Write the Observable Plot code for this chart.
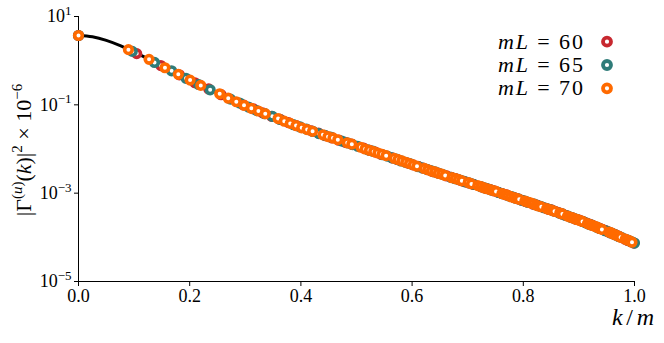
<!DOCTYPE html>
<html><head><meta charset="utf-8">
<script src="https://cdn.jsdelivr.net/npm/d3@7"></script>
<script src="https://cdn.jsdelivr.net/npm/@observablehq/plot@0.6"></script>
<style>
html,body{margin:0;padding:0;background:#fff}
#wrap{width:664px;height:343px}
</style></head><body><div id="wrap"></div>
<script>
// black reference curve: [k/m, log10 value]
const curvePts = [[0,0.57],[0.025,0.54],[0.05,0.46],[0.075,0.34],[0.1,0.19],[0.125,0.04],[0.15,-0.12],[0.175,-0.28],[0.2,-0.44],[0.225,-0.59],[0.25,-0.73],[0.275,-0.88],[0.3,-1.02],[0.325,-1.15],[0.35,-1.27],[0.375,-1.39],[0.4,-1.51],[0.45,-1.72],[0.5,-1.93],[0.55,-2.14],[0.6,-2.35],[0.65,-2.56],[0.7,-2.76],[0.75,-2.96],[0.8,-3.17],[0.85,-3.38],[0.9,-3.61],[0.95,-3.84],[1.0,-4.04]];

// mL = 60 points: [k/m, log10 value]
const pts60 = [[0,0.57],[0.1047,0.16],[0.1481,-0.11],[0.1814,-0.32],[0.2094,-0.50],[0.2342,-0.64],[0.2565,-0.77],[0.2962,-1.00],[0.3142,-1.09],[0.3312,-1.18],[0.3473,-1.26],[0.3628,-1.33],[0.3776,-1.40],[0.3918,-1.47],[0.4189,-1.59],[0.4318,-1.64],[0.4443,-1.70],[0.4565,-1.75],[0.4683,-1.80],[0.4799,-1.85],[0.4912,-1.89],[0.5130,-1.98],[0.5236,-2.03],[0.5340,-2.07],[0.5441,-2.12],[0.5639,-2.20],[0.5736,-2.24],[0.5924,-2.32],[0.6016,-2.36],[0.6106,-2.39],[0.6195,-2.43],[0.6283,-2.47],[0.6370,-2.51],[0.6455,-2.54],[0.6623,-2.61],[0.6705,-2.64],[0.6787,-2.67],[0.6867,-2.71],[0.6946,-2.74],[0.7025,-2.77],[0.7102,-2.80],[0.7255,-2.86],[0.7330,-2.89],[0.7405,-2.92],[0.7478,-2.95],[0.7551,-2.98],[0.7624,-3.01],[0.7695,-3.04],[0.7836,-3.10],[0.7906,-3.13],[0.7975,-3.16],[0.8044,-3.19],[0.8179,-3.25],[0.8246,-3.27],[0.8378,-3.33],[0.8443,-3.36],[0.8508,-3.38],[0.8572,-3.41],[0.8635,-3.44],[0.8699,-3.47],[0.8762,-3.50],[0.8886,-3.56],[0.8947,-3.59],[0.9008,-3.61],[0.9069,-3.64],[0.9129,-3.67],[0.9189,-3.70],[0.9249,-3.73],[0.9366,-3.79],[0.9425,-3.82],[0.9483,-3.85],[0.9541,-3.88],[0.9598,-3.91],[0.9655,-3.94],[0.9711,-3.97],[0.9824,-4.04],[0.9879,-4.07],[0.9935,-4.10],[0.9990,-4.13]];

// mL = 65 points
const pts65 = [[0,0.57],[0.0967,0.21],[0.1367,-0.04],[0.1674,-0.23],[0.1933,-0.40],[0.2161,-0.54],[0.2368,-0.66],[0.2734,-0.87],[0.2900,-0.96],[0.3057,-1.05],[0.3206,-1.13],[0.3349,-1.20],[0.3485,-1.26],[0.3617,-1.33],[0.3867,-1.45],[0.3986,-1.50],[0.4101,-1.55],[0.4213,-1.60],[0.4323,-1.65],[0.4430,-1.69],[0.4534,-1.73],[0.4736,-1.82],[0.4833,-1.86],[0.4929,-1.90],[0.5023,-1.94],[0.5206,-2.02],[0.5294,-2.05],[0.5468,-2.13],[0.5553,-2.16],[0.5637,-2.20],[0.5719,-2.23],[0.5800,-2.27],[0.5880,-2.30],[0.5959,-2.33],[0.6114,-2.40],[0.6190,-2.43],[0.6265,-2.46],[0.6339,-2.49],[0.6412,-2.52],[0.6484,-2.55],[0.6556,-2.58],[0.6697,-2.64],[0.6766,-2.67],[0.6835,-2.69],[0.6903,-2.72],[0.6971,-2.75],[0.7037,-2.77],[0.7103,-2.80],[0.7234,-2.85],[0.7298,-2.88],[0.7362,-2.90],[0.7425,-2.93],[0.7550,-2.98],[0.7611,-3.01],[0.7733,-3.06],[0.7793,-3.08],[0.7853,-3.11],[0.7912,-3.13],[0.7971,-3.16],[0.8029,-3.18],[0.8088,-3.21],[0.8202,-3.25],[0.8259,-3.28],[0.8315,-3.30],[0.8371,-3.33],[0.8427,-3.35],[0.8482,-3.37],[0.8537,-3.40],[0.8646,-3.45],[0.8700,-3.47],[0.8753,-3.50],[0.8807,-3.52],[0.8859,-3.55],[0.8912,-3.57],[0.8964,-3.59],[0.9068,-3.64],[0.9119,-3.67],[0.9170,-3.70],[0.9221,-3.72],[0.9322,-3.77],[0.9372,-3.80],[0.9471,-3.85],[0.9520,-3.87],[0.9569,-3.90],[0.9618,-3.92],[0.9666,-3.95],[0.9715,-3.98],[0.9763,-4.00],[0.9858,-4.05],[0.9905,-4.08],[0.9952,-4.10],[0.9999,-4.13]];

// mL = 70 points
const pts70 = [[0,0.57],[0.0898,0.25],[0.1269,0.03],[0.1555,-0.16],[0.1795,-0.31],[0.2007,-0.44],[0.2199,-0.56],[0.2539,-0.75],[0.2693,-0.85],[0.2838,-0.93],[0.2977,-1.01],[0.3109,-1.08],[0.3236,-1.14],[0.3359,-1.20],[0.3590,-1.31],[0.3701,-1.37],[0.3808,-1.42],[0.3913,-1.47],[0.4014,-1.52],[0.4113,-1.56],[0.4210,-1.60],[0.4397,-1.68],[0.4488,-1.72],[0.4577,-1.75],[0.4664,-1.79],[0.4834,-1.86],[0.4916,-1.89],[0.5078,-1.96],[0.5156,-2.00],[0.5234,-2.03],[0.5310,-2.06],[0.5386,-2.09],[0.5460,-2.12],[0.5533,-2.15],[0.5677,-2.21],[0.5747,-2.24],[0.5817,-2.27],[0.5886,-2.30],[0.5954,-2.33],[0.6021,-2.36],[0.6088,-2.39],[0.6219,-2.44],[0.6283,-2.47],[0.6347,-2.50],[0.6410,-2.52],[0.6473,-2.55],[0.6535,-2.57],[0.6596,-2.60],[0.6717,-2.65],[0.6777,-2.67],[0.6836,-2.69],[0.6895,-2.72],[0.7010,-2.76],[0.7068,-2.79],[0.7181,-2.83],[0.7237,-2.85],[0.7292,-2.88],[0.7347,-2.90],[0.7402,-2.92],[0.7456,-2.94],[0.7510,-2.96],[0.7616,-3.01],[0.7669,-3.03],[0.7721,-3.05],[0.7773,-3.08],[0.7825,-3.10],[0.7876,-3.12],[0.7927,-3.14],[0.8028,-3.18],[0.8078,-3.20],[0.8128,-3.22],[0.8177,-3.24],[0.8227,-3.27],[0.8275,-3.29],[0.8324,-3.31],[0.8420,-3.35],[0.8468,-3.37],[0.8515,-3.39],[0.8562,-3.41],[0.8656,-3.45],[0.8703,-3.47],[0.8795,-3.52],[0.8840,-3.54],[0.8886,-3.56],[0.8931,-3.58],[0.8976,-3.60],[0.9021,-3.62],[0.9065,-3.64],[0.9154,-3.69],[0.9198,-3.71],[0.9241,-3.73],[0.9285,-3.75],[0.9328,-3.77],[0.9371,-3.80],[0.9414,-3.82],[0.9541,-3.88],[0.9584,-3.90],[0.9626,-3.93],[0.9667,-3.95],[0.9709,-3.97],[0.9750,-4.00],[0.9833,-4.04],[0.9874,-4.06],[0.9914,-4.08],[0.9955,-4.11]];

const seriesNames = ["60", "65", "70"];
const xTicks = [0, 0.2, 0.4, 0.6, 0.8, 1.0];
const yTickExps = [1, -1, -3, -5];

const colors = ["#c7282f", "#2f7c79", "#ff6a00"];
const FONT = "Liberation Serif, DejaVu Serif, Times New Roman, serif";
const toRows = arr => arr.map(([k, lv]) => ({k, v: Math.pow(10, lv)}));
const seriesPts = [pts60, pts65, pts70];

const chart = Plot.plot({
  width: 664, height: 343,
  marginLeft: 78, marginRight: 30, marginTop: 16, marginBottom: 62,
  style: {fontFamily: FONT, fontSize: "18px", background: "white", color: "black", overflow: "visible"},
  x: {domain: [0, 1], ticks: xTicks, tickFormat: d3.format(".1f"), tickSize: 5, tickPadding: 3, label: null, line: true},
  y: {type: "log", domain: [1e-5, 10], ticks: yTickExps.map(e => Math.pow(10, e)),
      tickFormat: d => "10^" + Math.round(Math.log10(d)), tickSize: 4, tickPadding: 3, label: null, line: true},
  marks: [
    Plot.line(toRows(curvePts), {x: "k", y: "v", stroke: "black", strokeWidth: 3, curve: "catmull-rom"}),
    ...seriesPts.map((p, i) => Plot.dot(toRows(p), {x: "k", y: "v", r: 3.8, stroke: colors[i], strokeWidth: 3.6, fill: "white"}))
  ]
});
document.getElementById("wrap").appendChild(chart);

const svg = d3.select(chart);
svg.selectAll("text").attr("font-family", FONT);
// y tick labels with superscripts
svg.selectAll('g[aria-label="y-axis tick label"] text').each(function() {
  const t = d3.select(this);
  const s = t.text();
  const m = s.match(/^10\^(-?\d+)$/);
  if (!m) return;
  t.text("10");
  t.append("tspan").attr("dy", "-0.55em").style("font-size", "13px").text(m[1].replace("-", "\u2212"));
});

function richText(g, parts, baseSize, supSize, supShift) {
  let inSup = false;
  parts.forEach(p => {
    const ts = g.append("tspan").text(p.t);
    if (p.sup && !inSup) { ts.attr("dy", -supShift); inSup = true; }
    else if (!p.sup && inSup) { ts.attr("dy", supShift); inSup = false; }
    ts.style("font-size", (p.sup ? supSize : baseSize) + "px");
    if (p.it) ts.style("font-style", "italic");
  });
}

// y label
const yl = svg.append("text")
  .attr("transform", "translate(31,150) rotate(-90)")
  .attr("text-anchor", "middle")
  .attr("font-family", FONT).attr("fill", "black");
richText(yl, [
  {t: "|\u0393"}, {t: "(", sup: 1}, {t: "u", sup: 1, it: 1}, {t: ")", sup: 1},
  {t: "("}, {t: "k", it: 1}, {t: ")|"}, {t: "2", sup: 1}, {t: " \u00d7 10"}, {t: "\u22126", sup: 1}
], 22, 15, 9);

// x label
const xl = svg.append("text")
  .attr("x", 654).attr("y", 325).attr("text-anchor", "end")
  .attr("font-family", FONT).attr("fill", "black");
richText(xl, [{t: "k", it: 1}, {t: "/"}, {t: "m", it: 1}], 24, 16, 8);
xl.attr("textLength", 42).attr("lengthAdjust", "spacing");

// legend
const legRows = [41.7, 65, 88.3];
seriesNames.forEach((name, i) => {
  const t = svg.append("text").attr("x", 498).attr("y", legRows[i] + 7)
    .attr("text-anchor", "start")
    .attr("font-family", FONT).attr("fill", "black");
  richText(t, [{t: "mL", it: 1}, {t: " = " + name}], 22, 15, 8);
  t.attr("textLength", 85).attr("lengthAdjust", "spacing");
  svg.append("circle").attr("cx", 607).attr("cy", legRows[i]).attr("r", 4)
    .attr("fill", "white").attr("stroke", colors[i]).attr("stroke-width", 3.8);
});
</script>
</body></html>
